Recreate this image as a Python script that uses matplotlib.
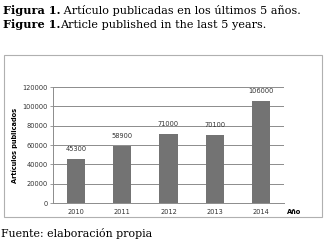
import matplotlib
matplotlib.use("Agg")
import matplotlib.pyplot as plt
from matplotlib.patches import Rectangle

years = ["2010", "2011", "2012", "2013", "2014"]
values = [45300, 58900, 71000, 70100, 106000]
yticks = [0, 20000, 40000, 60000, 80000, 100000, 120000]

W, H = 328, 246
fig = plt.figure(figsize=(W / 100, H / 100), dpi=100)
fig.patch.set_facecolor("white")

def px(x, y):
    return x / W, 1 - y / H

# chart box
fig.patches.append(Rectangle(px(4, 217), 318 / W, 162 / H, transform=fig.transFigure,
                             fill=False, edgecolor="#b0b0b0", linewidth=0.8))

ax = fig.add_axes([53 / W, (H - 203) / H, 231 / W, 116 / H])
x = range(len(years))
bars = ax.bar(x, values, width=0.39, color="#737373", zorder=3)
ax.set_xlim(-0.5, len(years) - 0.5)
ax.set_ylim(0, 120000)
ax.set_yticks(yticks)
ax.set_yticklabels([str(v) for v in yticks], fontsize=4.8, color="#333333")
ax.set_xticks(list(x))
ax.set_xticklabels(years, fontsize=4.8, color="#333333")
ax.yaxis.grid(True, color="#8c8c8c", linewidth=0.7, zorder=0)
for s in ["top", "right"]:
    ax.spines[s].set_visible(False)
ax.spines["left"].set_color("#8c8c8c")
ax.spines["bottom"].set_color("#8c8c8c")
ax.spines["left"].set_linewidth(0.7)
ax.spines["bottom"].set_linewidth(0.7)
ax.tick_params(axis="y", length=2, width=0.6, color="#8c8c8c", pad=2)
ax.tick_params(axis="x", length=0, pad=4)
for i, v in enumerate(values):
    ax.annotate(str(v), (i, v), xytext=(0, 5), textcoords="offset points",
                ha="center", va="bottom", fontsize=4.8, color="#333333")
ax.set_ylabel("Artículos publicados", fontsize=4.8, fontweight="bold", labelpad=3)
fig.text(*px(287, 214), "Año", fontsize=4.8, fontweight="bold", ha="left", va="baseline")

serif = "DejaVu Serif"
fs = 8.1
t1 = fig.text(*px(3, 14), "Figura 1.", fontsize=fs, fontweight="bold", family=serif, va="baseline")
ax.annotate(" Artículo publicadas en los últimos 5 años.", xy=(1, 0), xycoords=t1,
            fontsize=fs, family=serif, va="bottom", ha="left", annotation_clip=False)
t2 = fig.text(*px(3, 28), "Figure 1.", fontsize=fs, fontweight="bold", family=serif, va="baseline")
ax.annotate("Article published in the last 5 years.", xy=(1, 0), xycoords=t2,
            fontsize=fs, family=serif, va="bottom", ha="left", annotation_clip=False)
fig.text(*px(1, 237), "Fuente: elaboración propia", fontsize=7.9, family=serif, va="baseline")

fig.savefig("out.png", dpi=100)
